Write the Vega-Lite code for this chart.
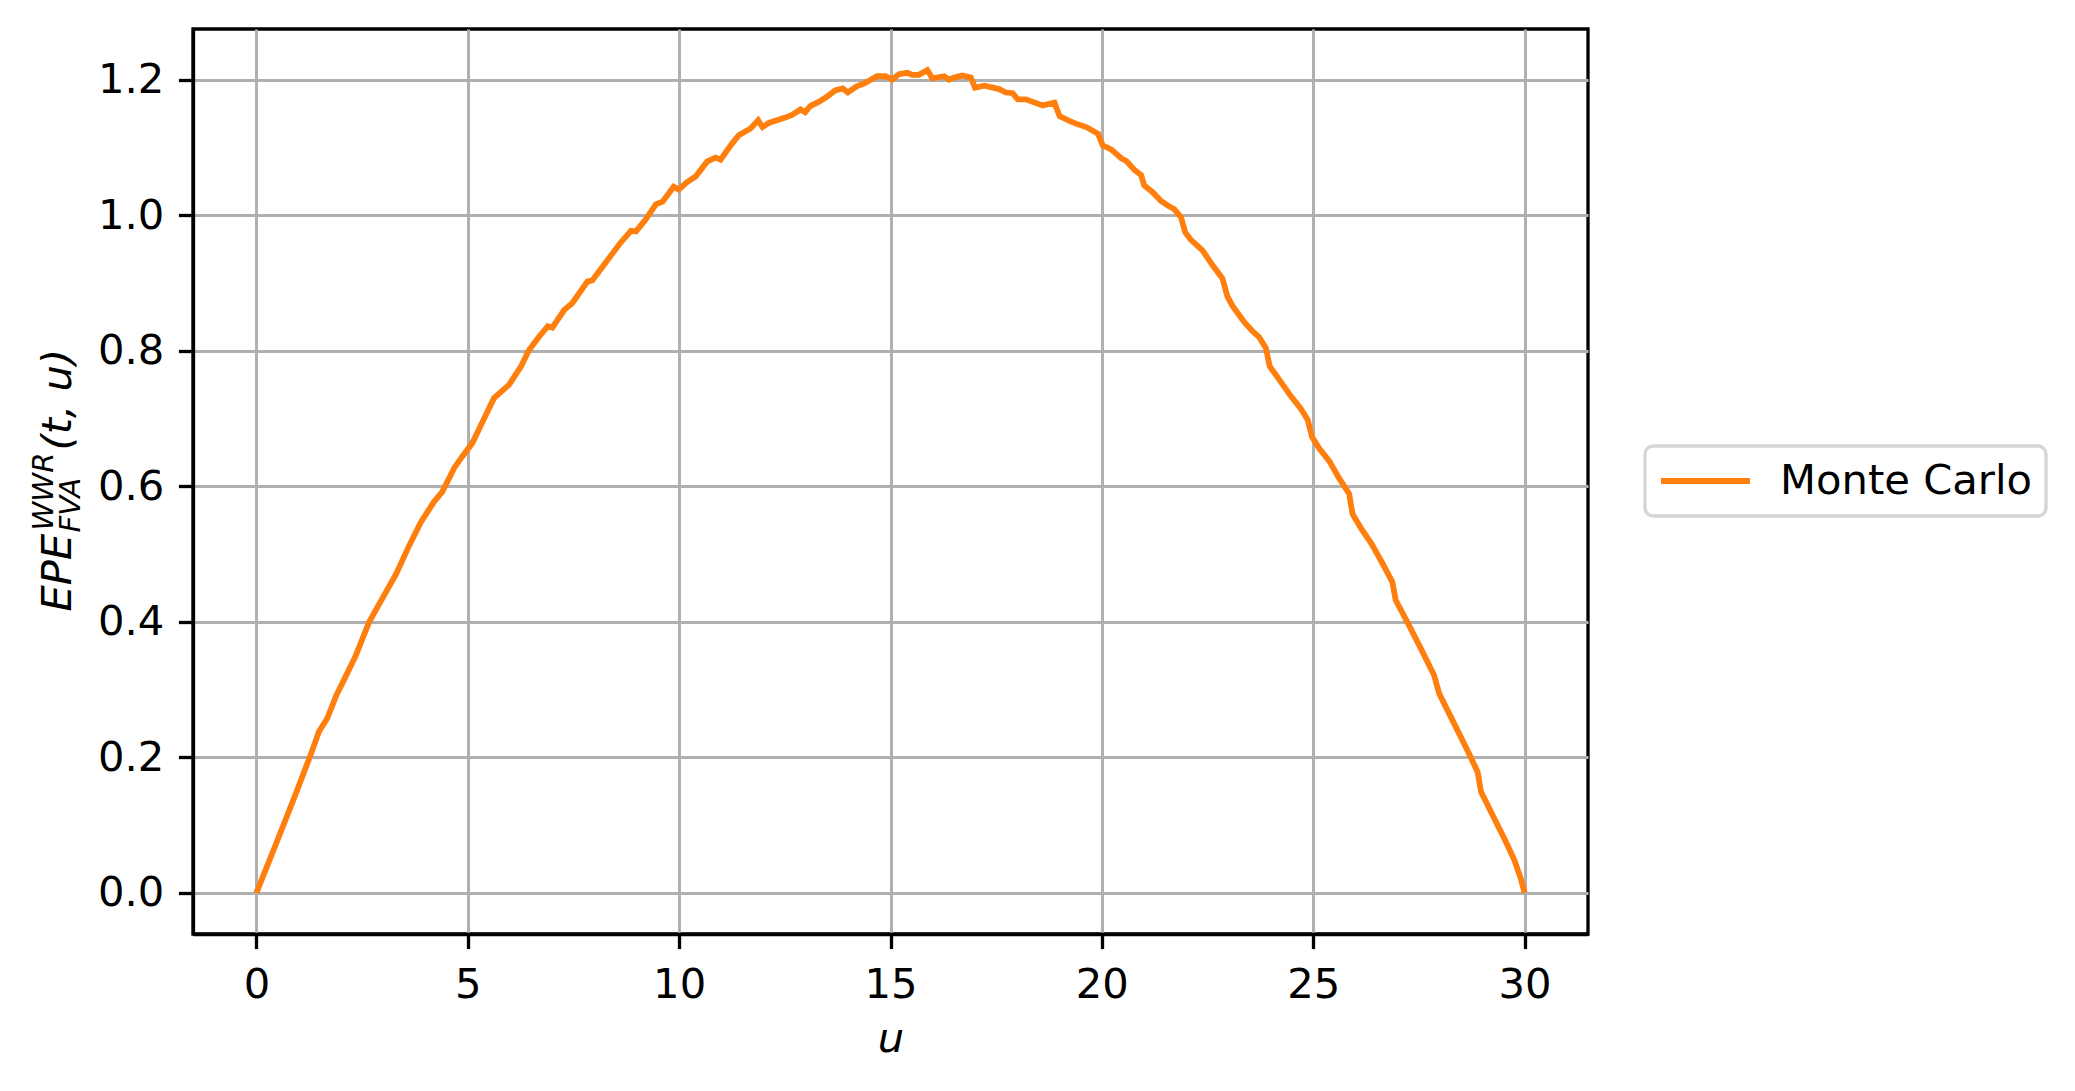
{
  "$schema": "https://vega.github.io/schema/vega-lite/v6.json",
  "width": 1395,
  "height": 905,
  "autosize": {"type": "none"},
  "padding": {"left": 193, "top": 29, "right": 487, "bottom": 157},
  "background": "white",
  "config": {
    "view": {"stroke": "black", "strokeWidth": 3.3},
    "font": "DejaVu Sans"
  },
  "data": {
    "values": [
      {"u": 0, "epe": 0, "series": "Monte Carlo"},
      {"u": 0.5, "epe": 0.078, "series": "Monte Carlo"},
      {"u": 0.93, "epe": 0.146, "series": "Monte Carlo"},
      {"u": 1.29, "epe": 0.205, "series": "Monte Carlo"},
      {"u": 1.48, "epe": 0.238, "series": "Monte Carlo"},
      {"u": 1.68, "epe": 0.258, "series": "Monte Carlo"},
      {"u": 1.88, "epe": 0.29, "series": "Monte Carlo"},
      {"u": 2.1, "epe": 0.318, "series": "Monte Carlo"},
      {"u": 2.35, "epe": 0.35, "series": "Monte Carlo"},
      {"u": 2.67, "epe": 0.4, "series": "Monte Carlo"},
      {"u": 2.94, "epe": 0.43, "series": "Monte Carlo"},
      {"u": 3.3, "epe": 0.47, "series": "Monte Carlo"},
      {"u": 3.61, "epe": 0.512, "series": "Monte Carlo"},
      {"u": 3.89, "epe": 0.547, "series": "Monte Carlo"},
      {"u": 4.2, "epe": 0.577, "series": "Monte Carlo"},
      {"u": 4.4, "epe": 0.592, "series": "Monte Carlo"},
      {"u": 4.68, "epe": 0.627, "series": "Monte Carlo"},
      {"u": 4.87, "epe": 0.644, "series": "Monte Carlo"},
      {"u": 5.11, "epe": 0.664, "series": "Monte Carlo"},
      {"u": 5.35, "epe": 0.695, "series": "Monte Carlo"},
      {"u": 5.62, "epe": 0.73, "series": "Monte Carlo"},
      {"u": 5.98, "epe": 0.75, "series": "Monte Carlo"},
      {"u": 6.26, "epe": 0.777, "series": "Monte Carlo"},
      {"u": 6.45, "epe": 0.801, "series": "Monte Carlo"},
      {"u": 6.69, "epe": 0.821, "series": "Monte Carlo"},
      {"u": 6.89, "epe": 0.836, "series": "Monte Carlo"},
      {"u": 7.0, "epe": 0.834, "series": "Monte Carlo"},
      {"u": 7.28, "epe": 0.86, "series": "Monte Carlo"},
      {"u": 7.47, "epe": 0.87, "series": "Monte Carlo"},
      {"u": 7.83, "epe": 0.902, "series": "Monte Carlo"},
      {"u": 7.95, "epe": 0.904, "series": "Monte Carlo"},
      {"u": 8.43, "epe": 0.944, "series": "Monte Carlo"},
      {"u": 8.61, "epe": 0.959, "series": "Monte Carlo"},
      {"u": 8.86, "epe": 0.977, "series": "Monte Carlo"},
      {"u": 8.98, "epe": 0.976, "series": "Monte Carlo"},
      {"u": 9.2, "epe": 0.993, "series": "Monte Carlo"},
      {"u": 9.45, "epe": 1.016, "series": "Monte Carlo"},
      {"u": 9.61, "epe": 1.02, "series": "Monte Carlo"},
      {"u": 9.87, "epe": 1.042, "series": "Monte Carlo"},
      {"u": 9.99, "epe": 1.038, "series": "Monte Carlo"},
      {"u": 10.19, "epe": 1.049, "series": "Monte Carlo"},
      {"u": 10.39, "epe": 1.057, "series": "Monte Carlo"},
      {"u": 10.66, "epe": 1.079, "series": "Monte Carlo"},
      {"u": 10.86, "epe": 1.085, "series": "Monte Carlo"},
      {"u": 10.98, "epe": 1.082, "series": "Monte Carlo"},
      {"u": 11.22, "epe": 1.103, "series": "Monte Carlo"},
      {"u": 11.41, "epe": 1.118, "series": "Monte Carlo"},
      {"u": 11.69, "epe": 1.128, "series": "Monte Carlo"},
      {"u": 11.87, "epe": 1.14, "series": "Monte Carlo"},
      {"u": 11.97, "epe": 1.13, "series": "Monte Carlo"},
      {"u": 12.12, "epe": 1.136, "series": "Monte Carlo"},
      {"u": 12.51, "epe": 1.144, "series": "Monte Carlo"},
      {"u": 12.67, "epe": 1.148, "series": "Monte Carlo"},
      {"u": 12.87, "epe": 1.156, "series": "Monte Carlo"},
      {"u": 12.98, "epe": 1.152, "series": "Monte Carlo"},
      {"u": 13.1, "epe": 1.161, "series": "Monte Carlo"},
      {"u": 13.3, "epe": 1.167, "series": "Monte Carlo"},
      {"u": 13.5, "epe": 1.175, "series": "Monte Carlo"},
      {"u": 13.69, "epe": 1.184, "series": "Monte Carlo"},
      {"u": 13.87, "epe": 1.187, "series": "Monte Carlo"},
      {"u": 13.99, "epe": 1.181, "series": "Monte Carlo"},
      {"u": 14.2, "epe": 1.19, "series": "Monte Carlo"},
      {"u": 14.37, "epe": 1.194, "series": "Monte Carlo"},
      {"u": 14.68, "epe": 1.205, "series": "Monte Carlo"},
      {"u": 14.88, "epe": 1.205, "series": "Monte Carlo"},
      {"u": 15.04, "epe": 1.2, "series": "Monte Carlo"},
      {"u": 15.2, "epe": 1.208, "series": "Monte Carlo"},
      {"u": 15.4, "epe": 1.21, "series": "Monte Carlo"},
      {"u": 15.51, "epe": 1.207, "series": "Monte Carlo"},
      {"u": 15.67, "epe": 1.207, "series": "Monte Carlo"},
      {"u": 15.87, "epe": 1.214, "series": "Monte Carlo"},
      {"u": 15.99, "epe": 1.202, "series": "Monte Carlo"},
      {"u": 16.27, "epe": 1.205, "series": "Monte Carlo"},
      {"u": 16.38, "epe": 1.2, "series": "Monte Carlo"},
      {"u": 16.5, "epe": 1.203, "series": "Monte Carlo"},
      {"u": 16.7, "epe": 1.206, "series": "Monte Carlo"},
      {"u": 16.9, "epe": 1.203, "series": "Monte Carlo"},
      {"u": 17.0, "epe": 1.188, "series": "Monte Carlo"},
      {"u": 17.22, "epe": 1.191, "series": "Monte Carlo"},
      {"u": 17.57, "epe": 1.186, "series": "Monte Carlo"},
      {"u": 17.73, "epe": 1.181, "series": "Monte Carlo"},
      {"u": 17.89, "epe": 1.18, "series": "Monte Carlo"},
      {"u": 18.01, "epe": 1.171, "series": "Monte Carlo"},
      {"u": 18.2, "epe": 1.171, "series": "Monte Carlo"},
      {"u": 18.6, "epe": 1.162, "series": "Monte Carlo"},
      {"u": 18.88, "epe": 1.166, "series": "Monte Carlo"},
      {"u": 19.0, "epe": 1.146, "series": "Monte Carlo"},
      {"u": 19.23, "epe": 1.139, "series": "Monte Carlo"},
      {"u": 19.43, "epe": 1.134, "series": "Monte Carlo"},
      {"u": 19.63, "epe": 1.13, "series": "Monte Carlo"},
      {"u": 19.91, "epe": 1.12, "series": "Monte Carlo"},
      {"u": 20.02, "epe": 1.103, "series": "Monte Carlo"},
      {"u": 20.22, "epe": 1.097, "series": "Monte Carlo"},
      {"u": 20.46, "epe": 1.084, "series": "Monte Carlo"},
      {"u": 20.58, "epe": 1.08, "series": "Monte Carlo"},
      {"u": 20.77, "epe": 1.067, "series": "Monte Carlo"},
      {"u": 20.93, "epe": 1.059, "series": "Monte Carlo"},
      {"u": 21.0, "epe": 1.044, "series": "Monte Carlo"},
      {"u": 21.2, "epe": 1.034, "series": "Monte Carlo"},
      {"u": 21.4, "epe": 1.021, "series": "Monte Carlo"},
      {"u": 21.59, "epe": 1.013, "series": "Monte Carlo"},
      {"u": 21.71, "epe": 1.009, "series": "Monte Carlo"},
      {"u": 21.87, "epe": 0.997, "series": "Monte Carlo"},
      {"u": 21.97, "epe": 0.975, "series": "Monte Carlo"},
      {"u": 22.1, "epe": 0.964, "series": "Monte Carlo"},
      {"u": 22.38, "epe": 0.948, "series": "Monte Carlo"},
      {"u": 22.62, "epe": 0.926, "series": "Monte Carlo"},
      {"u": 22.85, "epe": 0.907, "series": "Monte Carlo"},
      {"u": 22.97, "epe": 0.88, "series": "Monte Carlo"},
      {"u": 23.09, "epe": 0.866, "series": "Monte Carlo"},
      {"u": 23.37, "epe": 0.842, "series": "Monte Carlo"},
      {"u": 23.56, "epe": 0.829, "series": "Monte Carlo"},
      {"u": 23.72, "epe": 0.82, "series": "Monte Carlo"},
      {"u": 23.88, "epe": 0.804, "series": "Monte Carlo"},
      {"u": 23.97, "epe": 0.777, "series": "Monte Carlo"},
      {"u": 24.2, "epe": 0.757, "series": "Monte Carlo"},
      {"u": 24.47, "epe": 0.733, "series": "Monte Carlo"},
      {"u": 24.71, "epe": 0.714, "series": "Monte Carlo"},
      {"u": 24.87, "epe": 0.698, "series": "Monte Carlo"},
      {"u": 24.97, "epe": 0.673, "series": "Monte Carlo"},
      {"u": 25.14, "epe": 0.656, "series": "Monte Carlo"},
      {"u": 25.38, "epe": 0.637, "series": "Monte Carlo"},
      {"u": 25.6, "epe": 0.613, "series": "Monte Carlo"},
      {"u": 25.85, "epe": 0.589, "series": "Monte Carlo"},
      {"u": 25.93, "epe": 0.559, "series": "Monte Carlo"},
      {"u": 26.14, "epe": 0.537, "series": "Monte Carlo"},
      {"u": 26.38, "epe": 0.515, "series": "Monte Carlo"},
      {"u": 26.64, "epe": 0.486, "series": "Monte Carlo"},
      {"u": 26.87, "epe": 0.459, "series": "Monte Carlo"},
      {"u": 26.95, "epe": 0.432, "series": "Monte Carlo"},
      {"u": 27.23, "epe": 0.399, "series": "Monte Carlo"},
      {"u": 27.55, "epe": 0.36, "series": "Monte Carlo"},
      {"u": 27.86, "epe": 0.321, "series": "Monte Carlo"},
      {"u": 27.98, "epe": 0.294, "series": "Monte Carlo"},
      {"u": 28.34, "epe": 0.249, "series": "Monte Carlo"},
      {"u": 28.69, "epe": 0.205, "series": "Monte Carlo"},
      {"u": 28.89, "epe": 0.178, "series": "Monte Carlo"},
      {"u": 28.97, "epe": 0.149, "series": "Monte Carlo"},
      {"u": 29.28, "epe": 0.11, "series": "Monte Carlo"},
      {"u": 29.56, "epe": 0.075, "series": "Monte Carlo"},
      {"u": 29.76, "epe": 0.048, "series": "Monte Carlo"},
      {"u": 29.91, "epe": 0.021, "series": "Monte Carlo"},
      {"u": 30.0, "epe": 0.0, "series": "Monte Carlo"}
    ]
  },
  "encoding": {
    "x": {
      "field": "u",
      "type": "quantitative",
      "scale": {"domain": [-1.5, 31.5], "nice": false, "zero": false},
      "axis": {
        "values": [0, 5, 10, 15, 20, 25, 30],
        "format": "d",
        "labelFont": "DejaVu Sans",
        "labelFontSize": 41.7,
        "labelColor": "black",
        "labelBaseline": "alphabetic",
        "labelPadding": 48.4,
        "labelFlush": false,
        "tickSize": 14.6,
        "tickWidth": 3.3,
        "tickColor": "black",
        "domainColor": "black",
        "domainWidth": 3.3,
        "grid": true,
        "gridColor": "#b0b0b0",
        "gridWidth": 3,
        "title": "u",
        "titleFont": "DejaVu Sans",
        "titleFontStyle": "italic",
        "titleFontWeight": "normal",
        "titleFontSize": 41.7,
        "titleColor": "black",
        "titleBaseline": "alphabetic",
        "titleY": 117
      }
    }
  },
  "layer": [
    {
      "mark": {"type": "line", "strokeWidth": 5.8, "clip": true},
      "encoding": {
        "y": {
          "field": "epe",
          "type": "quantitative",
          "scale": {"domain": [-0.0607, 1.2747], "nice": false, "zero": false},
          "axis": {
            "orient": "left",
            "values": [0, 0.2, 0.4, 0.6, 0.8, 1.0, 1.2],
            "format": ".1f",
            "labelFont": "DejaVu Sans",
            "labelFontSize": 41.7,
            "labelColor": "black",
            "labelPadding": 14.6,
            "labelFlush": false,
            "tickSize": 14.6,
            "tickWidth": 3.3,
            "tickColor": "black",
            "domainColor": "black",
            "domainWidth": 3.3,
            "grid": true,
            "gridColor": "#b0b0b0",
            "gridWidth": 3,
            "title": "EPE",
            "titleFont": "DejaVu Sans",
            "titleFontStyle": "italic",
            "titleFontWeight": "normal",
            "titleFontSize": 41.7,
            "titleColor": "black",
            "titleAngle": -90,
            "titleAlign": "left",
            "titleBaseline": "alphabetic",
            "titleX": -123,
            "titleY": 582
          }
        },
        "color": {
          "field": "series",
          "type": "nominal",
          "scale": {"domain": ["Monte Carlo"], "range": ["#ff7f0e"]},
          "legend": {
            "orient": "none",
            "legendX": 1452,
            "legendY": 417,
            "title": null,
            "fillColor": "white",
            "strokeColor": "#d5d5d5",
            "cornerRadius": 8,
            "padding": 13,
            "symbolType": "stroke",
            "symbolSize": 7921,
            "symbolStrokeWidth": 5.8,
            "clipHeight": 44,
            "labelFont": "DejaVu Sans",
            "labelFontSize": 41.7,
            "labelColor": "black",
            "labelOffset": 27,
            "labelLimit": 600,
            "encode": {
              "legend": {"update": {"strokeWidth": {"value": 3.3}}}
            }
          }
        }
      }
    },
    {
      "mark": {"type": "line", "opacity": 0},
      "encoding": {
        "y": {
          "field": "epe",
          "type": "quantitative",
          "scale": {"domain": [-0.0607, 1.2747], "nice": false, "zero": false},
          "axis": {
            "orient": "left",
            "labels": false,
            "ticks": false,
            "domain": false,
            "grid": false,
            "title": "WWR",
            "titleFont": "DejaVu Sans",
            "titleFontStyle": "italic",
            "titleFontWeight": "normal",
            "titleFontSize": 29.2,
            "titleColor": "black",
            "titleAngle": -90,
            "titleAlign": "left",
            "titleBaseline": "alphabetic",
            "titleX": -141,
            "titleY": 501
          }
        }
      }
    },
    {
      "mark": {"type": "line", "opacity": 0},
      "encoding": {
        "y": {
          "field": "epe",
          "type": "quantitative",
          "scale": {"domain": [-0.0607, 1.2747], "nice": false, "zero": false},
          "axis": {
            "orient": "left",
            "labels": false,
            "ticks": false,
            "domain": false,
            "grid": false,
            "title": "FVA",
            "titleFont": "DejaVu Sans",
            "titleFontStyle": "italic",
            "titleFontWeight": "normal",
            "titleFontSize": 29.2,
            "titleColor": "black",
            "titleAngle": -90,
            "titleAlign": "left",
            "titleBaseline": "alphabetic",
            "titleX": -114,
            "titleY": 503
          }
        }
      }
    },
    {
      "mark": {"type": "line", "opacity": 0},
      "encoding": {
        "y": {
          "field": "epe",
          "type": "quantitative",
          "scale": {"domain": [-0.0607, 1.2747], "nice": false, "zero": false},
          "axis": {
            "orient": "left",
            "labels": false,
            "ticks": false,
            "domain": false,
            "grid": false,
            "title": "(t, u)",
            "titleFont": "DejaVu Sans",
            "titleFontStyle": "italic",
            "titleFontWeight": "normal",
            "titleFontSize": 41.7,
            "titleColor": "black",
            "titleAngle": -90,
            "titleAlign": "left",
            "titleBaseline": "alphabetic",
            "titleX": -123,
            "titleY": 421
          }
        }
      }
    }
  ],
  "resolve": {"axis": {"y": "independent"}}
}
